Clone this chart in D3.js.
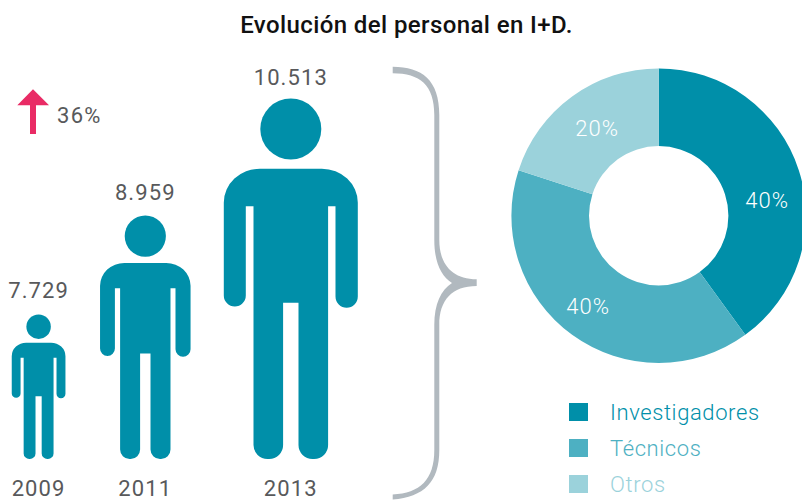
<!DOCTYPE html>
<html>
<head>
<meta charset="utf-8">
<script src="https://cdn.jsdelivr.net/npm/d3@7"></script>
<style>
  html, body { margin: 0; padding: 0; background: #fff; }
  svg { display: block; }
  text { font-family: Roboto, sans-serif; }
</style>
</head>
<body>
<div id="chart"></div>
<script>
const years = ["2009", "2011", "2013"];
const personnel = [7729, 8959, 10513];
const growth = [36];
const categories = ["Investigadores", "Técnicos", "Otros"];
const shares = [40, 40, 20];

const width = 802;
const height = 500;
const TEAL = "#008fa9";
const GREY = "#58595b";

const svg = d3.select("#chart")
  .append("svg")
  .attr("width", width)
  .attr("height", height);

const es = d3.formatLocale({
  decimal: ",",
  thousands: ".",
  grouping: [3],
  currency: ["", " €"]
});
const fmtCount = es.format(",d");
const fmtPct = d => `${d}%`;

// title
svg.append("text")
  .attr("x", 406.5)
  .attr("y", 33)
  .attr("text-anchor", "middle")
  .attr("font-size", 24)
  .attr("font-weight", 500)
  .attr("letter-spacing", 0.4)
  .attr("fill", "#111")
  .text("Evolución del personal en I+D.");

// people, all share one glyph drawn at the 2013 size
const GLYPH_H = 360.5;
const baseY = 459;
const heightScale = d3.scaleLinear().domain(personnel).range([144.5, 243.5, GLYPH_H]);
const xScale = d3.scaleOrdinal().domain(years).range([38.6, 145.3, 290.8]);

const bodyPath = "M-67 104A36 34 0 0 1-31 70.2H31A36 34 0 0 1 67 104V198A11.15 11.15 0 0 1 44.7 198V107.8H37.3"
  + "V346.5A14 14 0 0 1 23.3 360.5H21.7A14 14 0 0 1 7.7 346.5V204.2H-7.7V346.5A14 14 0 0 1-21.7 360.5H-23.3"
  + "A14 14 0 0 1-37.3 346.5V107.8H-45V197A11 11 0 0 1-67 197Z";

const people = svg.append("g").attr("id", "people")
  .selectAll("g")
  .data(years.map((year, i) => ({ year, value: personnel[i] })))
  .enter()
  .append("g");

const glyphs = people.append("g")
  .attr("transform", d => {
    const h = heightScale(d.value);
    return `translate(${xScale(d.year)},${baseY - h}) scale(${h / GLYPH_H})`;
  })
  .attr("fill", TEAL);
glyphs.append("circle").attr("cy", 30.5).attr("r", 30.5);
glyphs.append("path").attr("d", bodyPath);

people.append("text")
  .attr("x", d => xScale(d.year))
  .attr("y", d => {
    const h = heightScale(d.value);
    return baseY - h - (19 - 5.5 * h / GLYPH_H);
  })
  .attr("text-anchor", "middle")
  .attr("font-size", 22)
  .attr("letter-spacing", 1.1)
  .attr("fill", GREY)
  .text(d => fmtCount(d.value));

people.append("text")
  .attr("x", d => xScale(d.year))
  .attr("y", 495.5)
  .attr("text-anchor", "middle")
  .attr("font-size", 22)
  .attr("letter-spacing", 1.1)
  .attr("fill", GREY)
  .text(d => d.year);

// growth arrow
svg.append("path")
  .attr("d", "M33 89.3L49 105.3H36V134H30V105.3H17.3Z")
  .attr("fill", "#e92b65");
svg.append("text")
  .attr("x", 57)
  .attr("y", 123)
  .attr("font-size", 22)
  .attr("letter-spacing", 1.3)
  .attr("fill", GREY)
  .text(fmtPct(growth[0]));

// brace
svg.append("path")
  .attr("d", "M392.7 66.7C422 66.7 439.3 80 439.3 115V240C439.3 264 452 279.3 476.7 279.3V286C452 286 439.3 300 439.3 325"
    + "V450C439.3 482 424 497 392.7 499.5V494.5C420 493 434.3 480 434.3 450V325C434.3 304 441 290 452 283"
    + "C441 276 434.3 262 434.3 240V115C434.3 85 420 73.3 392.7 73.3Z")
  .attr("fill", "#b1b9bf");

// donut
const cx = 658.7;
const cy = 215.7;
const colorScale = d3.scaleOrdinal().domain(categories).range([TEAL, "#4db0c2", "#9bd2db"]);
const pie = d3.pie().sort(null)(shares);
const arc = d3.arc().innerRadius(69.7).outerRadius(147.3);
const labelPos = [[108.5, -15.5], [-70.5, 90.5], [-61.5, -87.5]];

const donut = svg.append("g")
  .attr("id", "donut")
  .attr("transform", `translate(${cx},${cy})`);

donut.selectAll("path")
  .data(pie)
  .enter()
  .append("path")
  .attr("d", arc)
  .attr("fill", (d, i) => colorScale(categories[i]));

donut.selectAll("text")
  .data(pie)
  .enter()
  .append("text")
  .attr("x", (d, i) => labelPos[i][0])
  .attr("y", (d, i) => labelPos[i][1] + 8)
  .attr("text-anchor", "middle")
  .attr("font-size", 22)
  .attr("font-weight", 300)
  .attr("letter-spacing", 1)
  .attr("fill", "#fff")
  .text(d => fmtPct(d.data));

// legend
const legend = svg.append("g").attr("id", "legend")
  .selectAll("g")
  .data(categories)
  .enter()
  .append("g")
  .attr("transform", (d, i) => `translate(569,${403 + i * 36})`);

legend.append("rect")
  .attr("width", 19)
  .attr("height", 18)
  .attr("fill", d => colorScale(d));

legend.append("text")
  .attr("x", 41)
  .attr("y", 17)
  .attr("font-size", 22)
  .attr("font-weight", 300)
  .attr("letter-spacing", 0.6)
  .attr("fill", d => colorScale(d))
  .text(d => d);
</script>
</body>
</html>
